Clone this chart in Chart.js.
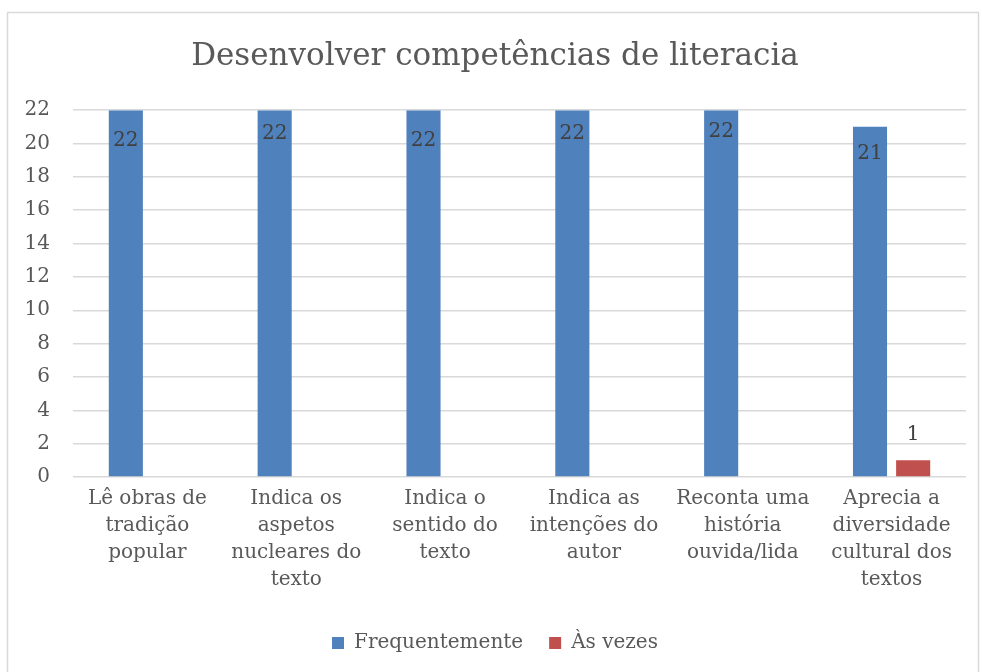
<!DOCTYPE html>
<html>
<head>
<meta charset="utf-8">
<script src="https://cdn.jsdelivr.net/npm/chart.js@4/dist/chart.umd.min.js"></script>
<style>
  html, body { margin: 0; padding: 0; background: #fff; }
  #wrap { width: 982px; height: 672px; position: relative; }
</style>
</head>
<body>
<div id="wrap"><canvas id="litChart" width="982" height="672"></canvas></div>
<script>
const categories = [
    ['Lê obras de', 'tradição', 'popular'],
    ['Indica os', 'aspetos', 'nucleares do', 'texto'],
    ['Indica o', 'sentido do', 'texto'],
    ['Indica as', 'intenções do', 'autor'],
    ['Reconta uma', 'história', 'ouvida/lida'],
    ['Aprecia a', 'diversidade', 'cultural dos', 'textos']
];
const frequentemente = [22, 22, 22, 22, 22, 21];
const asVezes = [0, 0, 0, 0, 0, 1];
const yTicks = [0, 2, 4, 6, 8, 10, 12, 14, 16, 18, 20, 22];

const FONT = "'DejaVu Serif', 'Liberation Serif', serif";
const TEXT = '#595959';

// outer frame like the office chart border
const framePlugin = {
    id: 'frame',
    beforeDraw(chart) {
        const c = chart.ctx;
        c.save();
        c.fillStyle = '#fff';
        c.fillRect(0, 0, chart.width, chart.height);
        c.strokeStyle = '#d9d9d9';
        c.lineWidth = 1.5;
        c.strokeRect(7.5, 12.5, 971, 700);
        c.restore();
    }
};

// value labels: inside top for blue, above bar for red, skip zeros
// (the office renderer jitters the inside labels a bit, nudge per bar)
const insideNudge = [31, 24, 31, 24, 22, 27];
const valueLabels = {
    id: 'valueLabels',
    afterDatasetsDraw(chart) {
        const c = chart.ctx;
        c.save();
        c.font = '20px ' + FONT;
        c.fillStyle = '#404040';
        c.textAlign = 'center';
        c.textBaseline = 'middle';
        chart.data.datasets.forEach((ds, i) => {
            const meta = chart.getDatasetMeta(i);
            meta.data.forEach((bar, j) => {
                const v = ds.data[j];
                if (!v) return;
                const y = i === 0 ? bar.y + insideNudge[j] : bar.y - 26;
                c.fillText(String(v), bar.x, y);
            });
        });
        c.restore();
    }
};

const ctx = document.getElementById('litChart').getContext('2d');
const chart = new Chart(ctx, {
    type: 'bar',
    data: {
        labels: categories,
        datasets: [{
            label: 'Frequentemente',
            data: frequentemente,
            backgroundColor: '#4f81bd',
            categoryPercentage: 0.58,
            barPercentage: 0.79
        }, {
            label: 'Às vezes',
            data: asVezes,
            backgroundColor: '#c0504d',
            categoryPercentage: 0.58,
            barPercentage: 0.79
        }]
    },
    options: {
        responsive: false,
        animation: false,
        layout: { padding: { left: 24, right: 16, top: 28, bottom: 9 } },
        plugins: {
            title: {
                display: true,
                text: 'Desenvolver competências de literacia',
                color: TEXT,
                font: { family: FONT, size: 31, weight: 'normal' },
                padding: { top: 10, bottom: 35 }
            },
            legend: {
                position: 'bottom',
                labels: {
                    color: TEXT,
                    font: { family: FONT, size: 20 },
                    boxWidth: 12,
                    boxHeight: 12,
                    padding: 26
                }
            },
            tooltip: { enabled: false }
        },
        scales: {
            x: {
                grid: { display: false },
                border: { display: false },
                afterFit(axis) {
                    axis.height += 14;
                },
                ticks: {
                    color: TEXT,
                    font: { family: FONT, size: 20, lineHeight: 1.35 },
                    maxRotation: 0,
                    autoSkip: false,
                    padding: 0
                }
            },
            y: {
                min: 0,
                max: 22,
                afterBuildTicks(axis) {
                    axis.ticks = yTicks.map(v => ({ value: v }));
                },
                afterFit(axis) {
                    axis.width = 49;
                },
                grid: { color: '#d9d9d9', lineWidth: 1.5, drawTicks: false },
                border: { display: false },
                ticks: {
                    color: TEXT,
                    font: { family: FONT, size: 20 },
                    padding: 23
                }
            }
        }
    },
    plugins: [framePlugin, valueLabels]
});
</script>
</body>
</html>
